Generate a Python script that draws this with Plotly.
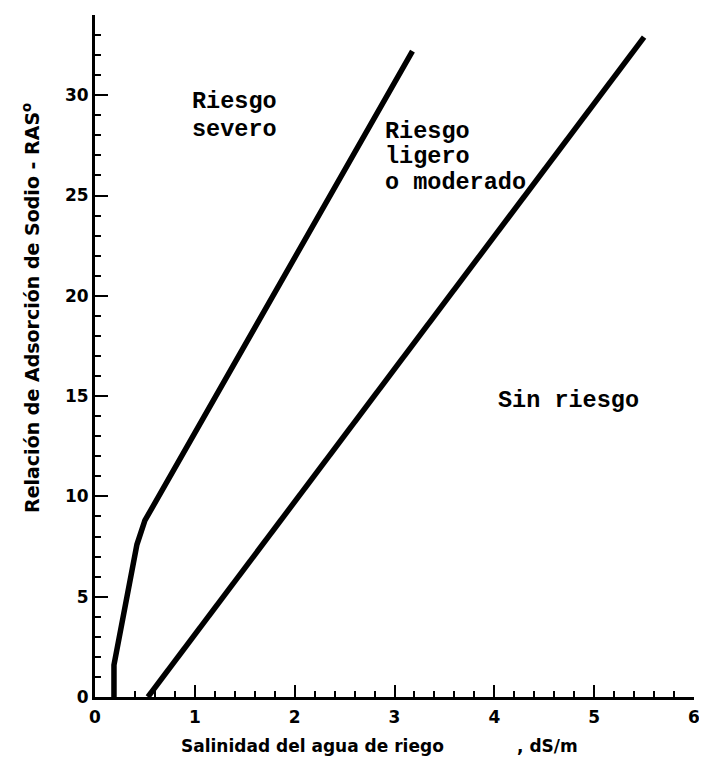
import plotly.graph_objects as go

# Data
severo_x = [0.19, 0.19, 0.42, 0.50, 3.18]
severo_y = [0.0, 1.6, 7.6, 8.8, 32.2]
moderado_x = [0.53, 5.50]
moderado_y = [0.0, 32.9]

x_ticks = [0, 1, 2, 3, 4, 5, 6]
y_ticks = [0, 5, 10, 15, 20, 25, 30]

zone_labels = [
    ("Riesgo", 0.95, 29.7),
    ("severo", 0.95, 28.3),
    ("Riesgo", 2.88, 28.2),
    ("ligero", 2.88, 26.95),
    ("o moderado", 2.88, 25.65),
    ("Sin riesgo", 4.02, 14.8),
]

# page offset (browser body margin) and plot-area geometry
OFF = 8
W, H = 707 - OFF, 762 - OFF
PX0, PX1, PY0, PY1 = 95, 694, 697, 15   # page pixels of plot area
L, R = PX0 - OFF, W - (PX1 - OFF)
T, B = PY1 - OFF, H - (PY0 - OFF)
pw, ph = PX1 - PX0, PY0 - PY1


def paper_x(px):
    return (px - PX0) / pw


def paper_y(py):
    return (PY0 - py) / ph


fig = go.Figure()
for xs, ys in [(severo_x, severo_y), (moderado_x, moderado_y)]:
    fig.add_trace(go.Scatter(x=xs, y=ys, mode="lines",
                             line=dict(color="black", width=5.5),
                             showlegend=False, hoverinfo="skip"))

mono = "Liberation Mono, Courier New, monospace"
for txt, x, y in zone_labels:
    fig.add_annotation(x=x, y=y, xref="x", yref="y", text=txt,
                       showarrow=False, xanchor="left", yanchor="middle",
                       font=dict(family=mono, size=23.5, color="black", weight="bold"))

sans = "DejaVu Sans, Arial, sans-serif"
fig.add_annotation(x=paper_x(312), y=paper_y(746), xref="paper", yref="paper",
                   xanchor="center", yanchor="middle",
                   text="Salinidad del agua de riego", showarrow=False,
                   font=dict(family=sans, size=17, color="black", weight="bold"))
fig.add_annotation(x=paper_x(547), y=paper_y(746), xref="paper", yref="paper",
                   xanchor="center", yanchor="middle",
                   text=", dS/m", showarrow=False,
                   font=dict(family=sans, size=17, color="black", weight="bold"))
fig.add_annotation(x=paper_x(31), y=paper_y(308), xref="paper", yref="paper",
                   xanchor="center", yanchor="middle",
                   text="Relación de Adsorción de Sodio - RAS<sup>o</sup>", textangle=-90,
                   showarrow=False,
                   font=dict(family=sans, size=19, color="black", weight="bold"))

fig.update_layout(
    width=W, height=H,
    margin=dict(l=L, r=R, t=T, b=B, autoexpand=False),
    paper_bgcolor="white", plot_bgcolor="white",
    showlegend=False,
)
fig.update_xaxes(range=[0, 6], tickvals=x_ticks, ticktext=[str(v) for v in x_ticks],
                 showgrid=False, zeroline=False, showline=True, linecolor="black", linewidth=3,
                 ticks="inside", ticklen=12, tickwidth=2, tickcolor="black",
                 ticklabelstandoff=3,
                 minor=dict(dtick=0.2, ticks="inside", ticklen=6, tickwidth=2, tickcolor="black", showgrid=False),
                 tickfont=dict(family=sans, size=17, color="black", weight="bold"))
fig.update_yaxes(range=[0, 34], tickvals=y_ticks, ticktext=[str(v) for v in y_ticks],
                 showgrid=False, zeroline=False, showline=True, linecolor="black", linewidth=3,
                 ticks="inside", ticklen=13, tickwidth=2, tickcolor="black",
                 minor=dict(dtick=1, ticks="inside", ticklen=6, tickwidth=2, tickcolor="black", showgrid=False),
                 tickfont=dict(family=sans, size=17, color="black", weight="bold"))

fig.write_html("out.html")
